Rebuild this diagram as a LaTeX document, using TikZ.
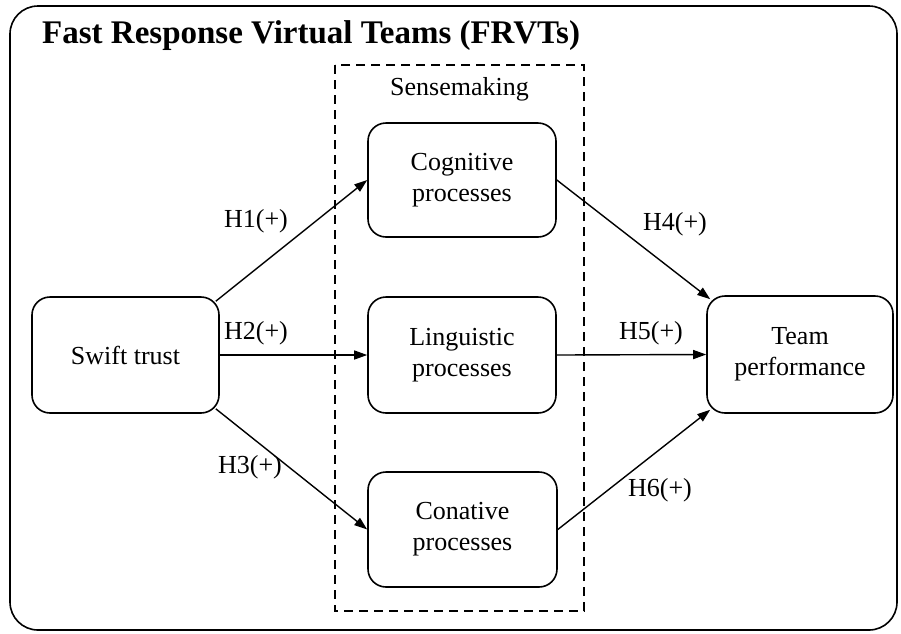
\documentclass[tikz,border=0pt]{standalone}
\usepackage{fontspec}
\setmainfont{Liberation Serif}
\usetikzlibrary{arrows.meta,calc}
\begin{document}
\begin{tikzpicture}[x=1pt,y=-1pt,
  box/.style={draw,line width=1.6pt,rounded corners=18pt,align=center,
    font=\fontsize{26}{31}\selectfont,inner sep=0pt},
  lbl/.style={font=\fontsize{26}{29}\selectfont,inner sep=0pt},
  conn/.style={line width=1.4pt,-{Triangle[length=13pt,width=9pt]}}]
\useasboundingbox (0,0) rectangle (901,633);
\draw[line width=1.6pt,rounded corners=28pt] (10,6) rectangle (897,630);
\node[anchor=base west,font=\fontsize{33}{37}\selectfont\bfseries,inner sep=0pt] (title) at (42,43) {Fast Response Virtual Teams (FRVTs)};
\draw[line width=1.2pt,dash pattern=on 9pt off 6pt] (335,65) rectangle (584,611);
\node[lbl] (sense) at (459.5,89) {Sensemaking};
\node[box,minimum width=187pt,minimum height=116pt] (st) at (125.5,355) {Swift trust};
\node[box,minimum width=188pt,minimum height=114pt] (cog) at (462,180) {Cognitive\\processes};
\node[box,minimum width=188pt,minimum height=116pt] (lin) at (462,355) {Linguistic\\processes};
\node[box,minimum width=189pt,minimum height=115pt] (con) at (462.5,529.5) {Conative\\processes};
\node[box,minimum width=186pt,minimum height=117pt] (tp) at (800,354.5) {Team\\performance};
\coordinate (st1) at ($(st.north east)+(-4,5)$);
\coordinate (st3) at ($(st.south east)+(-4,-5)$);
\coordinate (tp1) at ($(tp.north west)+(4,4)$);
\coordinate (tp3) at ($(tp.south west)+(4,-4)$);
\draw[conn] (st1) -- (cog.west);
\draw[conn] (st.east) -- (lin.west);
\draw[conn] (st3) -- (con.west);
\draw[conn] (cog.east) -- (tp1);
\draw[conn] (lin.east) -- (tp.west);
\draw[conn] (con.east) -- (tp3);
\node[lbl] (h1) at (256,221) {H1(+)};
\node[lbl] (h2) at (256,333) {H2(+)};
\node[lbl] (h3) at (250,467) {H3(+)};
\node[lbl] (h4) at (675,224) {H4(+)};
\node[lbl] (h5) at (651,333) {H5(+)};
\node[lbl] (h6) at (660,490) {H6(+)};
\end{tikzpicture}
\end{document}
